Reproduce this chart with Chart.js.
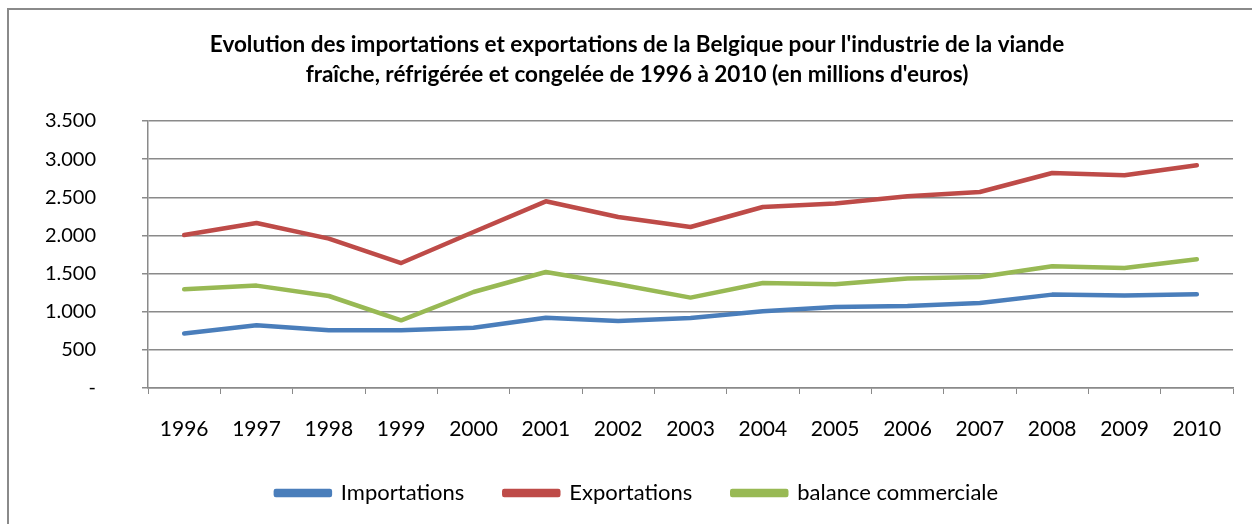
<!DOCTYPE html>
<html>
<head>
<meta charset="utf-8">
<script src="https://cdn.jsdelivr.net/npm/chart.js@4/dist/chart.umd.min.js"></script>
<style>
  body { margin: 0; background: #fff; }
  #wrap { position: relative; width: 1252px; height: 524px; overflow: hidden; }
  #frame { position: absolute; left: 7px; top: 8px; width: 1400px; height: 700px;
           border-top: 2px solid #8a8a8a; border-left: 2px solid #8a8a8a; }
  canvas { position: absolute; left: 0; top: 0; }
</style>
</head>
<body>
<div id="wrap">
  <div id="frame"></div>
  <canvas id="chart" width="1252" height="524"></canvas>
</div>
<script>
const years = ["1996", "1997", "1998", "1999", "2000", "2001", "2002", "2003",
               "2004", "2005", "2006", "2007", "2008", "2009", "2010"];
const importations = [713, 822, 756, 756, 791, 922, 878, 917, 1005, 1062, 1075, 1114, 1224, 1211, 1228];
const exportations = [2005, 2163, 1958, 1638, 2045, 2447, 2241, 2110, 2372, 2417, 2512, 2569, 2818, 2788, 2919];
const balance = [1294, 1342, 1206, 887, 1258, 1520, 1359, 1185, 1376, 1359, 1434, 1455, 1595, 1573, 1687];
const yTicks = [0, 500, 1000, 1500, 2000, 2500, 3000, 3500];

const FONT = "Lato, 'Liberation Sans', sans-serif";
const GRID = "#8a8a8a";

// thousands with a dot, zero shown as a dash
function fmt(v) {
  if (v === 0) return "-";
  return String(v).replace(/\B(?=(\d{3})+(?!\d))/g, ".");
}

function series(label, data, color) {
  return {
    label: label,
    data: data,
    borderColor: color,
    backgroundColor: color,
    borderWidth: 4.5,
    pointRadius: 0,
    tension: 0,
    borderCapStyle: "round",
    borderJoinStyle: "round"
  };
}

Chart.defaults.font.family = FONT;
Chart.defaults.color = "#000";

new Chart(document.getElementById("chart"), {
  type: "line",
  data: {
    labels: years,
    datasets: [
      series("Importations", importations, "#4a7ebb"),
      series("Exportations", exportations, "#be4b48"),
      series("balance commerciale", balance, "#98b954")
    ]
  },
  options: {
    responsive: false,
    animation: false,
    layout: { padding: { left: 41, right: 19, top: 0, bottom: 10 } },
    plugins: {
      title: {
        display: true,
        text: ["Evolution des importations et exportations de la Belgique pour l'industrie de la viande",
               "fraîche, réfrigérée et congelée de 1996 à 2010 (en millions d'euros)"],
        font: { size: 22.5, weight: "bold", lineHeight: 1.333 },
        color: "#000",
        padding: { top: 30, bottom: 31 }
      },
      legend: {
        position: "bottom",
        labels: {
          boxWidth: 54,
          boxHeight: 4,
          padding: 40,
          font: { size: 22 }
        }
      },
      tooltip: { enabled: false }
    },
    scales: {
      x: {
        offset: true,
        grid: { display: true, drawOnChartArea: false, offset: true, color: GRID, tickLength: 6 },
        border: { color: GRID, width: 1.5 },
        ticks: { padding: 23, maxRotation: 0, autoSkip: false, font: { size: 21 } },
        afterFit: (s) => { s.height = 54; }
      },
      y: {
        min: 0,
        max: 3500,
        afterBuildTicks: (s) => { s.ticks = yTicks.map(v => ({ value: v })); },
        grid: { color: GRID, lineWidth: 1.5, tickLength: 6 },
        border: { color: GRID, width: 1.5 },
        ticks: { padding: 46, callback: (v) => fmt(v), font: { size: 20 } },
        afterFit: (s) => { s.width = 107; }
      }
    }
  }
});
</script>
</body>
</html>
